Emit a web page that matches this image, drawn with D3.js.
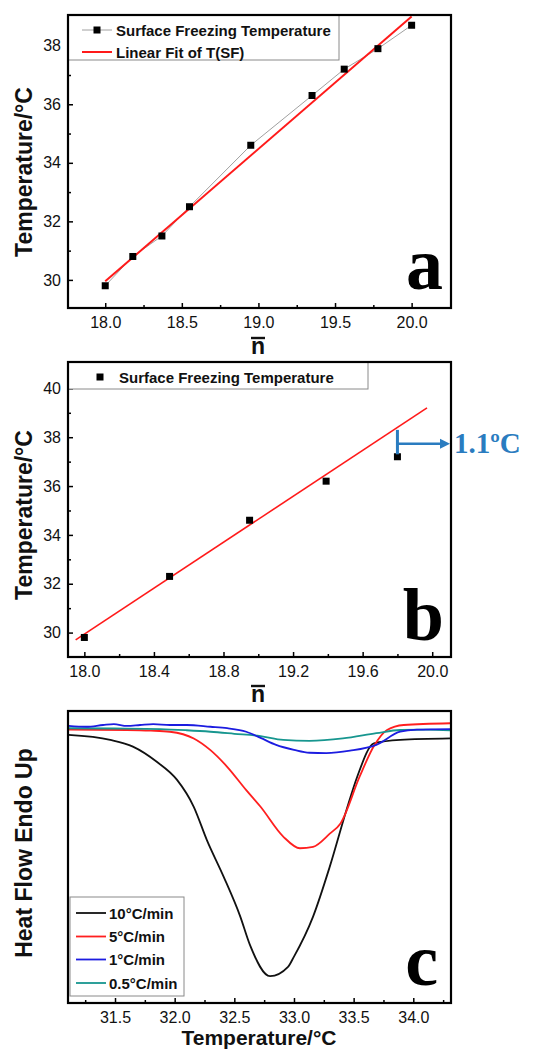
<!DOCTYPE html>
<html>
<head>
<meta charset="utf-8">
<script src="https://cdn.jsdelivr.net/npm/d3@7"></script>
<style>
  html, body { margin: 0; padding: 0; background: #fff; }
  svg { display: block; }
</style>
</head>
<body>
<div id="chart"></div>
<script>
// ---------------- DATA ----------------
// Panel a
const aN = [18.0, 18.18, 18.37, 18.55, 18.95, 19.35, 19.56, 19.78, 20.0];
const aT = [29.8, 30.8, 31.5, 32.5, 34.6, 36.3, 37.2, 37.9, 38.7];
const aFitN = [18.0, 20.0];
const aFitT = [29.95, 39.0];
const aXTicks = [18.0, 18.5, 19.0, 19.5, 20.0];
const aXMinor = [18.25, 18.75, 19.25, 19.75];
const aYTicks = [30, 32, 34, 36, 38];
const aYMinor = [31, 33, 35, 37];
const aLegend = ["Surface Freezing Temperature", "Linear Fit of T(SF)"];

// Panel b
const bN = [18.0, 18.49, 18.95, 19.39, 19.8];
const bT = [29.8, 32.3, 34.6, 36.2, 37.2];
const bFitN = [17.95, 19.97];
const bFitT = [29.7, 39.2];
const bXTicks = [18.0, 18.4, 18.8, 19.2, 19.6, 20.0];
const bXMinor = [18.2, 18.6, 19.0, 19.4, 19.8];
const bYTicks = [30, 32, 34, 36, 38, 40];
const bYMinor = [31, 33, 35, 37, 39];
const bLegend = ["Surface Freezing Temperature"];
const bGapN = 19.8;
const bGapT = [38.3, 37.3];
const bArrowT = 37.73;
const bGapLabel = "1.1ºC";

// Panel c (heat flow, arbitrary units)
const cNames = ["10°C/min", "5°C/min", "1°C/min", "0.5°C/min"];
const cColors = ["#111111", "#ff1f1f", "#1c1ce0", "#17968f"];
const c10T = [31.11, 31.46, 31.65, 31.85, 32.02, 32.16, 32.27, 32.41, 32.55, 32.63, 32.80, 32.95, 33.0, 33.16, 33.30, 33.44, 33.53, 33.67, 33.89, 34.31];
const c10V = [91.8, 90.1, 87.8, 82.6, 76.4, 67.2, 55.8, 43.3, 29.6, 20.0, 9.2, 12.4, 15.9, 29.6, 46.7, 66.1, 77.5, 88.9, 90.1, 90.6];
const c5T = [31.11, 31.6, 31.8, 31.96, 32.16, 32.30, 32.44, 32.6, 32.72, 32.91, 33.05, 33.16, 33.3, 33.39, 33.55, 33.67, 33.78, 33.92, 34.31];
const c5V = [93.6, 93.5, 93.3, 92.9, 90.6, 86.6, 80.9, 72.9, 67.2, 57.0, 53.0, 53.5, 58.0, 61.5, 77.5, 88.0, 93.5, 95.2, 95.8];
const c1T = [31.11, 31.26, 31.40, 31.49, 31.60, 31.71, 31.82, 31.96, 32.10, 32.30, 32.44, 32.6, 32.72, 32.85, 33.0, 33.13, 33.27, 33.47, 33.69, 33.89, 34.03, 34.31];
const c1V = [94.9, 94.6, 95.2, 95.5, 94.9, 95.2, 95.5, 95.2, 95.2, 94.6, 94.1, 92.9, 90.8, 88.4, 86.7, 85.7, 85.6, 86.4, 88.4, 92.9, 93.6, 93.8];
const c05T = [31.11, 31.5, 31.88, 32.1, 32.30, 32.5, 32.72, 32.91, 33.13, 33.41, 33.69, 33.89, 34.1, 34.31];
const c05V = [94.1, 94.0, 93.8, 93.4, 92.9, 92.2, 91.4, 90.1, 89.8, 90.6, 92.4, 93.5, 93.6, 93.4];
const cXTicks = [31.5, 32.0, 32.5, 33.0, 33.5, 34.0];
const cXMinor = [31.25, 31.75, 32.25, 32.75, 33.25, 33.75, 34.25];

// ---------------- DRAW ----------------
const W = 538, H = 1052;
const SANS = "'Liberation Sans', Arial, sans-serif";
const SERIF = "'Liberation Serif', 'Times New Roman', serif";
const svg = d3.select("#chart").append("svg").attr("width", W).attr("height", H);

function axes(g, x, y, o) {
  const L = o.L, B = o.B;
  const bx = g.append("g").attr("transform", `translate(0,${B})`)
    .call(d3.axisBottom(x).tickValues(o.xTicks).tickSizeInner(-5).tickSizeOuter(0).tickPadding(9).tickFormat(d3.format(".1f")));
  bx.select(".domain").remove();
  bx.selectAll("line").attr("stroke", "#000").attr("stroke-width", 1.5);
  bx.selectAll("text").attr("font-family", SANS).attr("font-size", 16).attr("fill", "#111");
  const bm = g.append("g").attr("transform", `translate(0,${B})`)
    .call(d3.axisBottom(x).tickValues(o.xMinor).tickSizeInner(-3).tickSizeOuter(0).tickFormat(""));
  bm.select(".domain").remove();
  bm.selectAll("line").attr("stroke", "#000").attr("stroke-width", 1.5);
  if (o.yTicks) {
    const ly = g.append("g").attr("transform", `translate(${L},0)`)
      .call(d3.axisLeft(y).tickValues(o.yTicks).tickSizeInner(-5).tickSizeOuter(0).tickPadding(7).tickFormat(d3.format("d")));
    ly.select(".domain").remove();
    ly.selectAll("line").attr("stroke", "#000").attr("stroke-width", 1.5);
    ly.selectAll("text").attr("font-family", SANS).attr("font-size", 16).attr("fill", "#111");
    const lm = g.append("g").attr("transform", `translate(${L},0)`)
      .call(d3.axisLeft(y).tickValues(o.yMinor).tickSizeInner(-3).tickSizeOuter(0).tickFormat(""));
    lm.select(".domain").remove();
    lm.selectAll("line").attr("stroke", "#000").attr("stroke-width", 1.5);
  }
}

function frame(g, o) {
  g.append("rect").attr("x", o.L).attr("y", o.T).attr("width", o.R - o.L).attr("height", o.B - o.T)
    .attr("fill", "none").attr("stroke", "#000").attr("stroke-width", 2.2);
}

function yTitle(g, text, cx, cy) {
  g.append("text").attr("transform", `translate(${cx},${cy}) rotate(-90)`)
    .attr("text-anchor", "middle").attr("dominant-baseline", "central")
    .attr("font-family", SANS).attr("font-weight", "bold").attr("font-size", 23).attr("fill", "#111")
    .text(text);
}

function nBar(g, cx, baseline) {
  g.append("text").attr("x", cx).attr("y", baseline).attr("text-anchor", "middle")
    .attr("font-family", SANS).attr("font-weight", "bold").attr("font-size", 23).attr("fill", "#111").text("n");
  g.append("line").attr("x1", cx - 7).attr("x2", cx + 7).attr("y1", baseline - 16).attr("y2", baseline - 16)
    .attr("stroke", "#111").attr("stroke-width", 2.4);
}

function panelLetter(g, letter, x, baseline) {
  g.append("text").attr("x", x).attr("y", baseline).attr("text-anchor", "end")
    .attr("font-family", SERIF).attr("font-weight", "bold").attr("font-size", 74).attr("fill", "#000").text(letter);
}

// ---------- Panel a ----------
{
  const o = { L: 68, R: 451, T: 15, B: 308, xTicks: aXTicks, xMinor: aXMinor, yTicks: aYTicks, yMinor: aYMinor };
  const g = svg.append("g");
  const x = d3.scaleLinear().domain([17.757, 20.257]).range([o.L, o.R]);
  const y = d3.scaleLinear().domain([29.04, 39.05]).range([o.B, o.T]);
  svg.append("clipPath").attr("id", "clipA").append("rect")
    .attr("x", o.L).attr("y", o.T).attr("width", o.R - o.L).attr("height", o.B - o.T);
  const pts = aN.map((n, i) => [n, aT[i]]);
  g.append("path").datum(pts).attr("fill", "none").attr("stroke", "#a0a0a0").attr("stroke-width", 1)
    .attr("d", d3.line().x(d => x(d[0])).y(d => y(d[1])));
  g.append("path").datum(aFitN.map((n, i) => [n, aFitT[i]])).attr("clip-path", "url(#clipA)")
    .attr("fill", "none").attr("stroke", "#ff1a1a").attr("stroke-width", 2)
    .attr("d", d3.line().x(d => x(d[0])).y(d => y(d[1])));
  g.selectAll("rect.pa").data(pts).join("rect").attr("class", "pa")
    .attr("x", d => x(d[0]) - 3.5).attr("y", d => y(d[1]) - 3.5).attr("width", 7).attr("height", 7).attr("fill", "#000");
  axes(g, x, y, o);
  const lg = g.append("g");
  lg.append("rect").attr("x", o.L).attr("y", o.T).attr("width", 271).attr("height", 45)
    .attr("fill", "#fff").attr("stroke", "#8a8a8a").attr("stroke-width", 1);
  lg.append("line").attr("x1", 82).attr("x2", 112).attr("y1", 30).attr("y2", 30).attr("stroke", "#a0a0a0").attr("stroke-width", 1);
  lg.append("rect").attr("x", 97 - 3.5).attr("y", 30 - 3.5).attr("width", 7).attr("height", 7).attr("fill", "#000");
  lg.append("line").attr("x1", 82).attr("x2", 112).attr("y1", 52).attr("y2", 52).attr("stroke", "#ff1a1a").attr("stroke-width", 2);
  aLegend.forEach((t, i) => {
    lg.append("text").attr("x", 116).attr("y", 30 + 22 * i).attr("dominant-baseline", "central")
      .attr("font-family", SANS).attr("font-weight", "bold").attr("font-size", 15).attr("fill", "#111").text(t);
  });
  frame(g, o);
  yTitle(g, "Temperature/°C", 24, 172);
  nBar(g, 258, 354);
  panelLetter(g, "a", 443, 289);
}

// ---------- Panel b ----------
{
  const o = { L: 68, R: 451, T: 362, B: 657, xTicks: bXTicks, xMinor: bXMinor, yTicks: bYTicks, yMinor: bYMinor };
  const g = svg.append("g");
  const x = d3.scaleLinear().domain([17.906, 20.108]).range([o.L, o.R]);
  const y = d3.scaleLinear().domain([29.0, 41.08]).range([o.B, o.T]);
  const pts = bN.map((n, i) => [n, bT[i]]);
  g.append("path").datum(bFitN.map((n, i) => [n, bFitT[i]]))
    .attr("fill", "none").attr("stroke", "#ff1a1a").attr("stroke-width", 1.6)
    .attr("d", d3.line().x(d => x(d[0])).y(d => y(d[1])));
  g.selectAll("rect.pb").data(pts).join("rect").attr("class", "pb")
    .attr("x", d => x(d[0]) - 3.5).attr("y", d => y(d[1]) - 3.5).attr("width", 7).attr("height", 7).attr("fill", "#000");
  axes(g, x, y, o);
  const blue = "#2a7cc0";
  g.append("line").attr("x1", x(bGapN)).attr("x2", x(bGapN)).attr("y1", y(bGapT[0])).attr("y2", y(bGapT[1]))
    .attr("stroke", blue).attr("stroke-width", 3);
  const ay = y(bArrowT);
  g.append("line").attr("x1", x(bGapN)).attr("x2", o.R - 8).attr("y1", ay).attr("y2", ay)
    .attr("stroke", blue).attr("stroke-width", 2.4);
  g.append("path").attr("d", `M${o.R - 11},${ay - 5} L${o.R - 1},${ay} L${o.R - 11},${ay + 5} Z`).attr("fill", blue);
  g.append("text").attr("x", 454).attr("y", ay + 9).attr("font-family", SERIF).attr("font-weight", "bold")
    .attr("font-size", 29).attr("fill", blue).text(bGapLabel);
  const lg = g.append("g");
  lg.append("rect").attr("x", o.L).attr("y", o.T).attr("width", 300).attr("height", 27)
    .attr("fill", "#fff").attr("stroke", "#8a8a8a").attr("stroke-width", 1);
  lg.append("rect").attr("x", 100 - 3.5).attr("y", 377 - 3.5).attr("width", 7).attr("height", 7).attr("fill", "#000");
  bLegend.forEach(t => {
    lg.append("text").attr("x", 119).attr("y", 377).attr("dominant-baseline", "central")
      .attr("font-family", SANS).attr("font-weight", "bold").attr("font-size", 15).attr("fill", "#111").text(t);
  });
  frame(g, o);
  yTitle(g, "Temperature/°C", 24, 515);
  nBar(g, 258, 702);
  panelLetter(g, "b", 444, 640);
}

// ---------- Panel c ----------
{
  const o = { L: 68, R: 451, T: 711, B: 1003, xTicks: cXTicks, xMinor: cXMinor };
  const g = svg.append("g");
  const x = d3.scaleLinear().domain([31.106, 34.316]).range([o.L, o.R]);
  const y = d3.scaleLinear().domain([0, 100]).range([o.B, o.T]);
  const series = [[c10T, c10V], [c5T, c5V], [c1T, c1V], [c05T, c05V]];
  const line = d3.line().x(d => x(d[0])).y(d => y(d[1])).curve(d3.curveMonotoneX);
  [0, 1, 3, 2].forEach(i => {
    const [ts, vs] = series[i];
    g.append("path").datum(ts.map((t, j) => [t, vs[j]])).attr("fill", "none")
      .attr("stroke", cColors[i]).attr("stroke-width", 1.8).attr("stroke-linejoin", "round").attr("d", line);
  });
  axes(g, x, y, o);
  const lg = g.append("g");
  lg.append("rect").attr("x", 70).attr("y", 897).attr("width", 114).attr("height", 99)
    .attr("fill", "#fff").attr("stroke", "#8a8a8a").attr("stroke-width", 1);
  const rows = [913, 936.5, 959.5, 983];
  cNames.forEach((t, i) => {
    lg.append("line").attr("x1", 76).attr("x2", 106).attr("y1", rows[i]).attr("y2", rows[i])
      .attr("stroke", cColors[i]).attr("stroke-width", 1.8);
    lg.append("text").attr("x", 109).attr("y", rows[i]).attr("dominant-baseline", "central")
      .attr("font-family", SANS).attr("font-weight", "bold").attr("font-size", 15).attr("fill", "#111").text(t);
  });
  frame(g, o);
  yTitle(g, "Heat Flow Endo Up", 24, 853);
  g.append("text").attr("x", 259).attr("y", 1045).attr("text-anchor", "middle")
    .attr("font-family", SANS).attr("font-weight", "bold").attr("font-size", 21).attr("fill", "#111")
    .text("Temperature/°C");
  panelLetter(g, "c", 438, 985);
}
</script>
</body>
</html>
